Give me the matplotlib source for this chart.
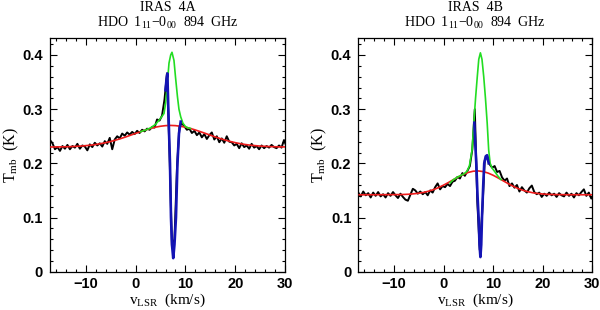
import numpy as np
import matplotlib as mpl
mpl.use('Agg')
import matplotlib.pyplot as plt
from matplotlib.ticker import MultipleLocator

mpl.rcParams.update({
    'font.family': 'Liberation Sans',
    'mathtext.fontset': 'custom',
    'mathtext.rm': 'Liberation Serif',
    'mathtext.it': 'Liberation Serif:italic',
    'mathtext.bf': 'Liberation Serif:bold',
})

# channel velocities of the observed spectra (km/s)
chan_v = np.arange(-17.2, 30.4, 0.5)

# observed spectrum, IRAS 4A
obs_4a = [0.243, 0.237, 0.226, 0.230, 0.223, 0.232, 0.227, 0.234, 0.226, 0.232,
          0.229, 0.236, 0.227, 0.233, 0.231, 0.224, 0.235, 0.230, 0.238, 0.233,
          0.237, 0.231, 0.241, 0.236, 0.247, 0.226, 0.244, 0.250, 0.246, 0.255,
          0.251, 0.257, 0.253, 0.258, 0.254, 0.260, 0.256, 0.262, 0.259, 0.264,
          0.262, 0.267, 0.266, 0.281, 0.279, 0.288, 0.318, 0.366, 0.220, 0.045,
          0.060, 0.190, 0.268, 0.274, 0.268, 0.262, 0.264, 0.256, 0.260, 0.252,
          0.257, 0.248, 0.254, 0.245, 0.252, 0.257, 0.244, 0.250, 0.239, 0.246,
          0.238, 0.250, 0.240, 0.239, 0.233, 0.236, 0.228, 0.237, 0.230, 0.233,
          0.227, 0.236, 0.229, 0.232, 0.226, 0.233, 0.228, 0.232, 0.229, 0.234,
          0.230, 0.228, 0.233, 0.229, 0.243, 0.231]

# observed spectrum, IRAS 4B
obs_4b = [0.146, 0.139, 0.148, 0.141, 0.145, 0.137, 0.146, 0.140, 0.147, 0.139,
          0.143, 0.137, 0.145, 0.140, 0.147, 0.141, 0.136, 0.144, 0.138, 0.133,
          0.131, 0.142, 0.153, 0.150, 0.144, 0.148, 0.143, 0.147, 0.141, 0.150,
          0.146, 0.156, 0.163, 0.152, 0.158, 0.156, 0.162, 0.158, 0.166, 0.168,
          0.175, 0.172, 0.182, 0.177, 0.186, 0.195, 0.226, 0.300, 0.130, 0.040,
          0.110, 0.205, 0.214, 0.198, 0.192, 0.195, 0.184, 0.186, 0.174, 0.168,
          0.172, 0.158, 0.163, 0.155, 0.160, 0.148, 0.156, 0.150, 0.146, 0.154,
          0.159, 0.147, 0.143, 0.146, 0.138, 0.144, 0.140, 0.146, 0.141, 0.144,
          0.138, 0.145, 0.141, 0.139, 0.146, 0.140, 0.144, 0.137, 0.145, 0.141,
          0.147, 0.152, 0.140, 0.146, 0.135, 0.141]

# broad outflow component (red), sampled every 1 km/s
model_v = np.arange(-17, 31, 1)
red_4a = [0.2302, 0.2303, 0.2304, 0.2306, 0.2309, 0.2314, 0.2319, 0.2327, 0.2336, 0.2348,
          0.2364, 0.2382, 0.2404, 0.2429, 0.2457, 0.2487, 0.2520, 0.2553, 0.2585, 0.2616,
          0.2644, 0.2668, 0.2685, 0.2696, 0.2700, 0.2696, 0.2685, 0.2668, 0.2644, 0.2616,
          0.2585, 0.2553, 0.2520, 0.2487, 0.2457, 0.2429, 0.2404, 0.2382, 0.2364, 0.2348,
          0.2336, 0.2327, 0.2319, 0.2314, 0.2309, 0.2306, 0.2304, 0.2303]
red_4b = [0.1420, 0.1420, 0.1421, 0.1421, 0.1421, 0.1422, 0.1422, 0.1423, 0.1423, 0.1426,
          0.1430, 0.1438, 0.1449, 0.1464, 0.1487, 0.1516, 0.1553, 0.1598, 0.1647, 0.1700,
          0.1751, 0.1797, 0.1833, 0.1855, 0.1860, 0.1848, 0.1820, 0.1780, 0.1731, 0.1679,
          0.1627, 0.1579, 0.1537, 0.1503, 0.1477, 0.1457, 0.1444, 0.1434, 0.1428, 0.1425,
          0.1423, 0.1422, 0.1421, 0.1421, 0.1421, 0.1420, 0.1420, 0.1420]

# emission without absorption (green)
green_v_4a = [1.0, 2.0, 3.0, 4.0, 5.0, 5.7, 6.0, 6.37, 6.7, 7.04, 7.3, 7.7, 8.0, 8.4,
              8.7, 9.05, 9.5, 10.0, 10.5, 11.0]
green_4a = [0.2585, 0.2615, 0.2655, 0.272, 0.283, 0.292, 0.310, 0.348, 0.385, 0.400,
            0.405, 0.390, 0.360, 0.323, 0.300, 0.286, 0.274, 0.268, 0.2655, 0.2644]
green_v_4b = [1.3, 2.0, 3.0, 4.0, 4.7, 5.2, 5.75, 6.1, 6.45, 6.8, 7.1, 7.43, 7.75, 8.1,
              8.45, 8.8, 9.1, 9.4, 9.8, 10.3, 11.0, 11.6]
green_4b = [0.164, 0.170, 0.1755, 0.180, 0.185, 0.195, 0.2245, 0.274, 0.320, 0.360,
            0.392, 0.404, 0.392, 0.360, 0.320, 0.274, 0.2245, 0.200, 0.191, 0.185,
            0.176, 0.170]

# full model with absorption (blue)
blue_v_4a = [6.0, 6.2, 6.37, 6.6, 6.9, 7.1, 7.3, 7.55, 7.8, 8.1, 8.4, 8.7, 9.05]
blue_4a = [0.335, 0.355, 0.366, 0.290, 0.200, 0.100, 0.050, 0.025, 0.050, 0.100,
           0.200, 0.255, 0.277]
blue_v_4b = [6.2, 6.4, 6.6, 6.85, 7.07, 7.25, 7.43, 7.6, 7.75, 8.0, 8.2, 8.5, 8.77, 9.1]
blue_4b = [0.275, 0.235, 0.200, 0.140, 0.100, 0.050, 0.027, 0.050, 0.100, 0.160,
           0.200, 0.213, 0.215, 0.200]

sources = ['IRAS  4A', 'IRAS  4B']
line_name = r'HDO  1$_{\rm 11}$$-$0$_{\rm 00}$  894  GHz'

fig = plt.figure(figsize=(6.0, 3.1), dpi=100)
ax_l = fig.add_axes([50 / 600, 38.3 / 310, 235 / 600, 233.5 / 310])
ax_r = fig.add_axes([358.3 / 600, 38.3 / 310, 234 / 600, 233.5 / 310])

panels = [
    (ax_l, obs_4a, red_4a, green_v_4a, green_4a, blue_v_4a, blue_4a),
    (ax_r, obs_4b, red_4b, green_v_4b, green_4b, blue_v_4b, blue_4b),
]

serif = 'Liberation Serif'
for i, (ax, obs, red, gv, green, bv, blue) in enumerate(panels):
    ax.plot(chan_v, obs, color='black', lw=1.4, zorder=2)
    ax.plot(model_v, red, color='#ee1c1c', lw=1.2, zorder=3)
    ax.plot(gv, green, color='#22dd22', lw=1.2, zorder=4)
    ax.plot(bv, blue, color='#1414b4', lw=1.9, zorder=5)

    ax.set_xlim(-17.2, 30)
    ax.set_ylim(0, 0.431)
    ax.xaxis.set_major_locator(MultipleLocator(10))
    ax.xaxis.set_minor_locator(MultipleLocator(2))
    ax.yaxis.set_minor_locator(MultipleLocator(0.02))
    ax.set_yticks([0, 0.1, 0.2, 0.3, 0.4])
    ax.set_yticklabels(['0', '0.1', '0.2', '0.3', '0.4'])
    ax.tick_params(which='both', direction='in', top=True, right=True,
                   labelsize=10.5, width=0.8)
    ax.tick_params(axis='x', pad=4)
    ax.tick_params(axis='y', pad=5)
    ax.tick_params(which='major', length=5)
    ax.tick_params(which='minor', length=2.5)
    for lab in ax.get_xticklabels() + ax.get_yticklabels():
        lab.set_fontweight('bold')
    for sp in ax.spines.values():
        sp.set_linewidth(0.9)

    ax.text(0.5, 1.132, sources[i], transform=ax.transAxes, ha='center',
            va='center', fontsize=10, family=serif)
    ax.text(0.5, 1.064, line_name, transform=ax.transAxes, ha='center',
            va='center', fontsize=10, family=serif)
    ax.set_xlabel(r'v$_{\rm LSR}$  (km/s)', fontsize=11, family=serif)
    ax.xaxis.set_label_coords(0.5, -0.084)
    ax.set_ylabel(r'T$_{\rm mb}$  (K)', fontsize=11.5, family=serif)
    ax.yaxis.set_label_coords(-0.125, 0.5)

fig.savefig('out.png', dpi=100)
